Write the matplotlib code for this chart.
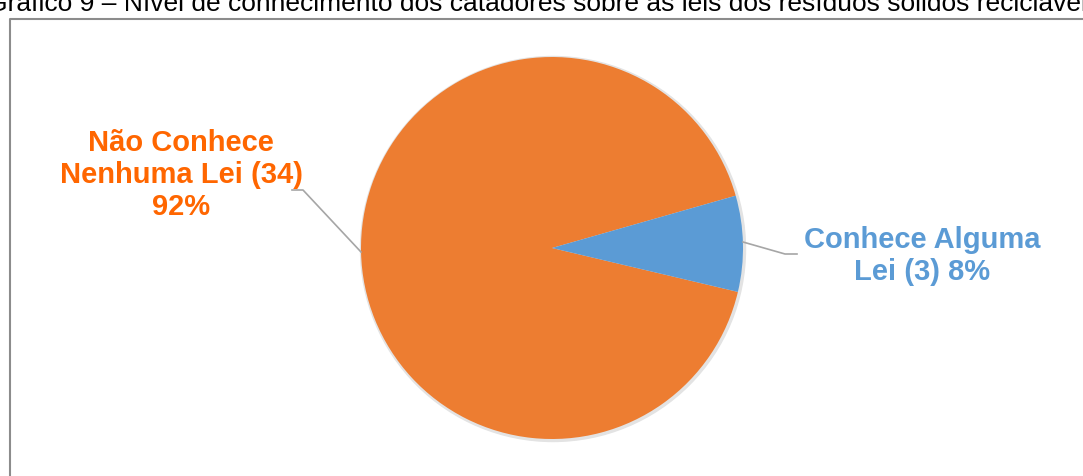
import matplotlib.pyplot as plt
from matplotlib.patches import Circle

plt.rcParams['font.family'] = ['Liberation Sans', 'DejaVu Sans']

labels = ['Não Conhece\nNenhuma Lei (34)\n92%', 'Conhece Alguma\nLei (3) 8%']
counts = [34, 3]
colors = ['#ED7D31', '#5B9BD5']
text_colors = ['#FF6600', '#5B9BD5']
title = 'Gráfico 9 – Nível de conhecimento dos catadores sobre as leis dos resíduos sólidos recicláveis'

W, H = 1083, 477
fig = plt.figure(figsize=(W / 100, H / 100), dpi=100)
ax = fig.add_axes([0, 0, 1, 1])

# chart frame (only left and top edges visible)
ax.plot([10, 10, W + 5], [-5, H - 20, H - 20], color='#8c8c8c', lw=1.5)

cx, cy, r = 552, H - 249, 191
# faint shadow around the pie
ax.add_patch(Circle((cx + 1, cy - 1), r + 1.5, color='#e3e3e3', zorder=1))
ax.pie(counts, colors=colors, startangle=15.9, center=(cx, cy),
       radius=r, frame=True, wedgeprops=dict(lw=0, zorder=2))
ax.set_xlim(0, W)
ax.set_ylim(0, H)
ax.set_aspect('equal')
ax.axis('off')

# leader lines
ax.plot([292, 303, 361], [H - 191, H - 191, H - 253], color='#a6a6a6', lw=1.2, zorder=3)
ax.plot([743, 785, 797], [H - 243, H - 255, H - 255], color='#a6a6a6', lw=1.2, zorder=3)

ax.text(181, H - 175, labels[0], ha='center', va='center', fontsize=21,
        fontweight='bold', color=text_colors[0], linespacing=1.2)
ax.text(922, H - 256, labels[1], ha='center', va='center', fontsize=21,
        fontweight='bold', color=text_colors[1], linespacing=1.2)

ax.text(-13, H - 11, title, ha='left', va='baseline', fontsize=19, color='#000000')

fig.savefig('out.png', dpi=100)
